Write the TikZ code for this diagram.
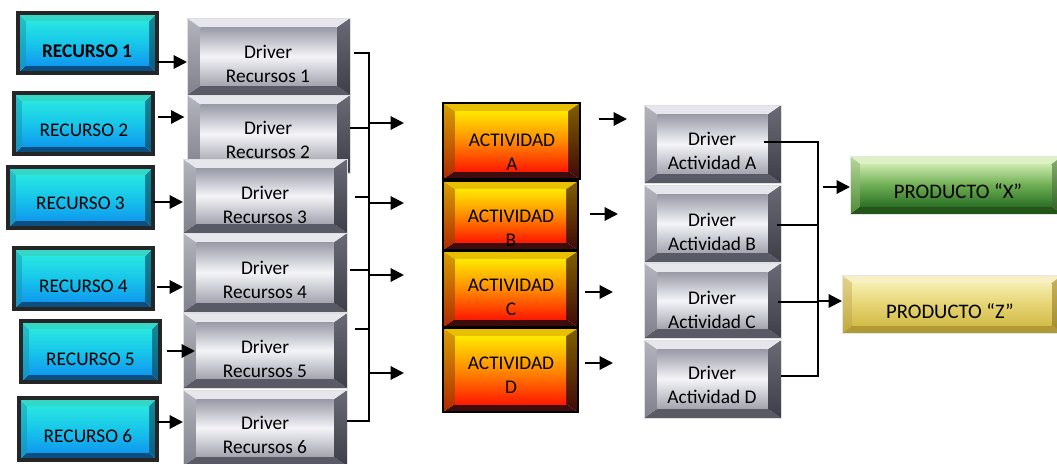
\documentclass[tikz,border=0pt]{standalone}
\usepackage{fontspec}
\setmainfont{Carlito}
\usetikzlibrary{calc,arrows.meta}
% cyan resources
\definecolor{cyT}{HTML}{34D6C6}\definecolor{cyL1}{HTML}{22C4C8}\definecolor{cyL2}{HTML}{1190C8}
\definecolor{cyR1}{HTML}{138C98}\definecolor{cyR2}{HTML}{0A5C86}\definecolor{cyB}{HTML}{0B4E80}
\definecolor{cyF1}{HTML}{28E6E2}\definecolor{cyF2}{HTML}{18C6EA}\definecolor{cyF3}{HTML}{109AEE}
% silver drivers
\definecolor{svT}{HTML}{E6E6EC}\definecolor{svL1}{HTML}{B4B4BE}\definecolor{svL2}{HTML}{80808C}
\definecolor{svR1}{HTML}{6A6A76}\definecolor{svR2}{HTML}{3E3E48}\definecolor{svB}{HTML}{5A5A66}
\definecolor{svF1}{HTML}{9A9AA8}\definecolor{svF2}{HTML}{F4F4F8}\definecolor{svF3}{HTML}{A4A4B0}
% activities
\definecolor{acT}{HTML}{E8C000}\definecolor{acL1}{HTML}{D8A000}\definecolor{acL2}{HTML}{B02800}
\definecolor{acR1}{HTML}{806000}\definecolor{acR2}{HTML}{400808}\definecolor{acB}{HTML}{3E0C0C}
\definecolor{acF1}{HTML}{FFE800}\definecolor{acF2}{HTML}{FF8A00}\definecolor{acF3}{HTML}{FF1A00}
% product X
\definecolor{gxT}{HTML}{DDF2C4}\definecolor{gxL1}{HTML}{B6D898}\definecolor{gxL2}{HTML}{4E8A38}
\definecolor{gxR1}{HTML}{8AB070}\definecolor{gxR2}{HTML}{2E5E20}\definecolor{gxB}{HTML}{245418}
\definecolor{gxF1}{HTML}{CCEAAE}\definecolor{gxF2}{HTML}{6EAE52}\definecolor{gxF3}{HTML}{2C7228}
% product Z
\definecolor{gzT}{HTML}{F8F0C4}\definecolor{gzL1}{HTML}{E2D48C}\definecolor{gzL2}{HTML}{C2A83C}
\definecolor{gzR1}{HTML}{C8B460}\definecolor{gzR2}{HTML}{A08A28}\definecolor{gzB}{HTML}{B09A36}
\definecolor{gzF1}{HTML}{F6EEB0}\definecolor{gzF2}{HTML}{E6D474}\definecolor{gzF3}{HTML}{D2BC4A}

\newcommand{\bevelpic}[3]{%
 \coordinate (pnw) at (path picture bounding box.north west);
 \coordinate (pse) at (path picture bounding box.south east);
 \coordinate (pne) at (path picture bounding box.north east);
 \coordinate (psw) at (path picture bounding box.south west);
 \fill[#1B] (psw) -- (pse) -- ([shift={(-#2,#3)}]pse) -- ([shift={(#2,#3)}]psw) -- cycle;
 \shade[top color=#1L1,bottom color=#1L2] (pnw) -- (psw) -- ([shift={(#2,#3)}]psw) -- ([shift={(#2,-#3)}]pnw) -- cycle;
 \shade[top color=#1R1,bottom color=#1R2] (pne) -- (pse) -- ([shift={(-#2,#3)}]pse) -- ([shift={(-#2,-#3)}]pne) -- cycle;
 \fill[#1T] (pnw) -- (pne) -- ([shift={(-#2,-#3)}]pne) -- ([shift={(#2,-#3)}]pnw) -- cycle;
 \shade[top color=#1F1, bottom color=#1F3, middle color=#1F2] ([shift={(#2,-#3)}]pnw) rectangle ([shift={(-#2,#3)}]pse);
}
\newcommand{\bevbox}[6]{%
 \pgfmathsetmacro\bw{(#4-#2)*0.75}\pgfmathsetmacro\bh{(#5-#3)*0.75}%
 \node[#6, minimum width=\bw pt, minimum height=\bh pt, inner sep=0pt, outer sep=0pt] (#1) at ({(#2+#4)/2},{(#3+#5)/2}) {};}

\tikzset{
 res/.style={draw=black!85, line width=2.4pt, path picture={\bevelpic{cy}{6pt}{6pt}}},
 drv/.style={draw=gray!25, line width=0.4pt, path picture={\bevelpic{sv}{10pt}{7pt}}},
 act/.style={draw=black, line width=1.5pt, path picture={\bevelpic{ac}{9pt}{6pt}}},
 prx/.style={draw=gray!20, line width=0.4pt, path picture={\bevelpic{gx}{8pt}{6pt}}},
 prz/.style={draw=gray!20, line width=0.4pt, path picture={\bevelpic{gz}{8pt}{6pt}}},
 lbl/.style={font=\fontsize{14.5}{18}\selectfont, align=center, inner sep=0pt, anchor=base},
 plbl/.style={lbl, font=\fontsize{15.5}{18}\selectfont},
 arr/.style={line width=1.5pt, -{Triangle[length=10pt,width=10pt]}},
 con/.style={line width=1.5pt},
}

\begin{document}
\begin{tikzpicture}[x=0.75pt,y=-0.75pt]
\useasboundingbox (0,0) rectangle (1057,464);

% resources
\bevbox{r1}{18}{13}{157}{73}{res}
\bevbox{r2}{14}{93}{153}{154}{res}
\bevbox{r3}{8}{167}{153}{228}{res}
\bevbox{r4}{14}{248}{153}{309}{res}
\bevbox{r5}{21}{321}{160}{382}{res}
\bevbox{r6}{19}{398}{157}{460}{res}
\node[lbl, font=\fontsize{14.5}{18}\selectfont\bfseries] (r1t) at (87,57) {RECURSO 1};
\node[lbl] (r2t) at (84,136) {RECURSO 2};
\node[lbl] (r3t) at (80.5,209) {RECURSO 3};
\node[lbl] (r4t) at (83.5,292) {RECURSO 4};
\node[lbl] (r5t) at (90.5,365) {RECURSO 5};
\node[lbl] (r6t) at (88,442) {RECURSO 6};

% resource drivers (base anchor = last line)
\bevbox{d1}{187}{18}{350}{95}{drv}
\node[lbl] (d1t) at (268,82) {Driver\\Recursos 1};
\bevbox{d2}{187}{95}{350}{173}{drv}
\node[lbl] (d2t) at (268,158) {Driver\\Recursos 2};
\bevbox{d3}{183}{159}{347}{233}{drv}
\node[lbl] (d3t) at (265,223) {Driver\\Recursos 3};
\bevbox{d4}{183}{233}{347}{312}{drv}
\node[lbl] (d4t) at (265,298) {Driver\\Recursos 4};
\bevbox{d5}{183}{313}{347}{388}{drv}
\node[lbl] (d5t) at (265,377) {Driver\\Recursos 5};
\bevbox{d6}{183}{390}{347}{466}{drv}
\node[lbl] (d6t) at (265,453) {Driver\\Recursos 6};

% activities
\bevbox{aa}{443}{103}{580}{179}{act}
\node[lbl] (aat) at (512,170) {ACTIVIDAD\\A};
\bevbox{ab}{443}{181}{578}{250}{act}
\node[lbl] (abt) at (511,246) {ACTIVIDAD\\B};
\bevbox{ac}{443}{251}{578}{327}{act}
\node[lbl] (act) at (511,315) {ACTIVIDAD\\C};
\bevbox{ad}{443}{328}{578}{412}{act}
\node[lbl] (adt) at (511,393) {ACTIVIDAD\\D};

% activity drivers
\bevbox{ea}{644}{105}{781}{183}{drv}
\node[lbl] (eat) at (712,169) {Driver\\Actividad A};
\bevbox{eb}{644}{185}{781}{262}{drv}
\node[lbl] (ebt) at (712,250) {Driver\\Actividad B};
\bevbox{ec}{644}{263}{781}{338}{drv}
\node[lbl] (ect) at (712,328) {Driver\\Actividad C};
\bevbox{ed}{644}{340}{781}{418}{drv}
\node[lbl] (edt) at (712,403) {Driver\\Actividad D};

% products
\bevbox{px}{850}{156}{1062}{214}{prx}
\node[plbl] (pxt) at (958,198) {PRODUCTO “X”};
\bevbox{pz}{842}{275}{1062}{333}{prz}
\node[plbl] (pzt) at (950,318) {PRODUCTO “Z”};

% resource -> driver arrows
\draw[arr] (r1.east |- 0,62) -- (d1.west |- 0,62);
\draw[arr] ([xshift=4]r2.east |- 0,117) -- ([xshift=-2]d2.west |- 0,117);
\draw[arr] (r3.east |- 0,202) -- (d3.west |- 0,202);
\draw[arr] ([xshift=3]r4.east |- 0,287) -- (d4.west |- 0,287);
\draw[arr] ([xshift=5]r5.east |- 0,351) -- ([xshift=9]d5.west |- 0,351);
\draw[arr] (r6.east |- 0,422) -- (d6.west |- 0,422);

% left bus
\coordinate (bt) at (369,53);
\coordinate (bb) at (369,421);
\draw[con] ([xshift=3]d1.east |- bt) -- (bt) -- (bb) -- (d6.east |- bb);
\draw[con] (d2.east |- 0,128) -- (bt |- 0,128);
\draw[con] ([xshift=6]d3.east |- 0,197) -- (bt |- 0,197);
\draw[con] ([xshift=2]d4.east |- 0,270) -- (bt |- 0,270);
\draw[con] ([xshift=6]d5.east |- 0,329) -- (bt |- 0,329);
\coordinate (ia) at (404,123);
\coordinate (ib) at (404,203);
\coordinate (ic) at (404,275);
\coordinate (id) at (404,373);
\draw[arr] (bt |- ia) -- (ia);
\draw[arr] (bt |- ib) -- (ib);
\draw[arr] (bt |- ic) -- (ic);
\draw[arr] (bt |- id) -- (id);

% activity arrows
\coordinate (oa) at (599,119); \coordinate (ta) at (627,119);
\coordinate (ob) at (590,214); \coordinate (tb) at (618,214);
\coordinate (oc) at (585,292); \coordinate (tc) at (613,292);
\coordinate (od) at (585,363); \coordinate (td) at (613,363);
\draw[arr] (oa) -- (ta);
\draw[arr] (ob) -- (tb);
\draw[arr] (oc) -- (tc);
\draw[arr] (od) -- (td);

% right bus
\coordinate (ct) at (818,142);
\coordinate (cb) at (818,376);
\draw[con] ([xshift=-13]ea.east |- ct) -- (ct) -- (cb) -- (ed.east |- cb);
\draw[con] ([xshift=-3]eb.east |- 0,225) -- (ct |- 0,225);
\draw[con] ([xshift=-2]ec.east |- 0,302) -- (ct |- 0,302);
\draw[arr] ([xshift=4]ct |- 0,187) -- (px.west |- 0,187);
\draw[arr] (ct |- 0,301) -- (pz.west |- 0,301);
\end{tikzpicture}
\end{document}
